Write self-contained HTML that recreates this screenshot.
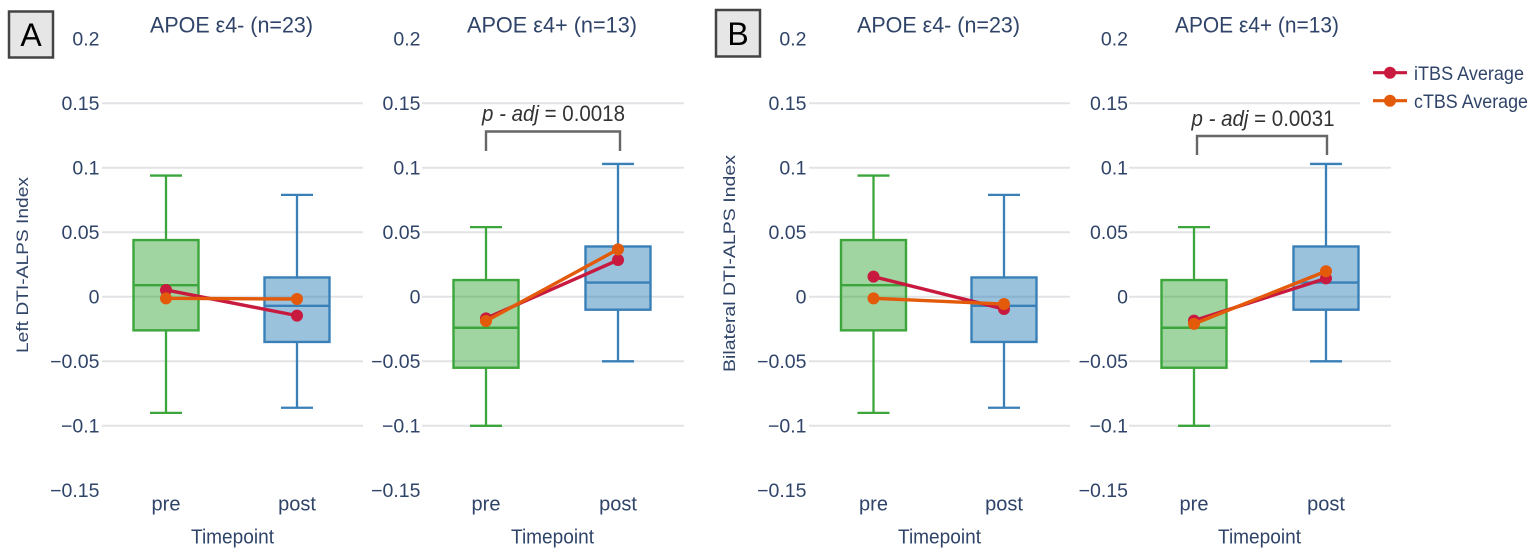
<!DOCTYPE html>
<html lang="en">
<head>
<meta charset="utf-8">
<title>DTI-ALPS Index by timepoint and APOE status</title>
<style>
html,body{margin:0;padding:0;background:#fff;width:1535px;height:558px;overflow:hidden}
svg{display:block;filter:blur(.3px)}
text{font-family:"Liberation Sans",sans-serif;fill:#2f4468}
</style>
</head>
<body>
<svg id="chart" xmlns="http://www.w3.org/2000/svg" width="1535" height="558" viewBox="0 0 1535 558">
  <g id="panels"></g>

  <g>
    <rect x="9" y="11.5" width="44" height="46" fill="#e6e6e6" stroke="#444" stroke-width="2.5"></rect>
    <text x="31" y="46" text-anchor="middle" font-size="32" style="fill:#000">A</text>
  </g>
  <g>
    <rect x="716" y="10" width="44" height="46.5" fill="#e6e6e6" stroke="#444" stroke-width="2.5"></rect>
    <text x="738" y="45" text-anchor="middle" font-size="32" style="fill:#000">B</text>
  </g>

  <text transform="translate(28,353) rotate(-90)" font-size="17" textLength="176" lengthAdjust="spacingAndGlyphs">Left DTI-ALPS Index</text>
  <text transform="translate(735,372) rotate(-90)" font-size="17" textLength="217" lengthAdjust="spacingAndGlyphs">Bilateral DTI-ALPS Index</text>

  <g>
    <path d="M486 151V131.5H620V151" fill="none" stroke="#666" stroke-width="2.4"></path>
    <text x="482" y="121" font-size="22" textLength="143" lengthAdjust="spacingAndGlyphs" style="fill:#333"><tspan font-style="italic">p - adj</tspan> = 0.0018</text>
  </g>
  <g>
    <path d="M1197 155V136H1327V155" fill="none" stroke="#666" stroke-width="2.4"></path>
    <text x="1191.5" y="126" font-size="22" textLength="143" lengthAdjust="spacingAndGlyphs" style="fill:#333"><tspan font-style="italic">p - adj</tspan> = 0.0031</text>
  </g>

  <g>
    <g>
      <line x1="1373" y1="72.7" x2="1407" y2="72.7" stroke="#c8193f" stroke-width="3.2"></line>
      <circle cx="1390" cy="72.7" r="6" fill="#c8193f"></circle>
      <text x="1414" y="80" font-size="19.5" textLength="110" lengthAdjust="spacingAndGlyphs">iTBS Average</text>
    </g>
    <g>
      <line x1="1373" y1="100.7" x2="1407" y2="100.7" stroke="#e35a0a" stroke-width="3.2"></line>
      <circle cx="1390" cy="100.7" r="6" fill="#e35a0a"></circle>
      <text x="1414" y="108" font-size="19.5" textLength="114" lengthAdjust="spacingAndGlyphs">cTBS Average</text>
    </g>
  </g>
</svg>

<script>
// ---- data ----
const categories = ['pre', 'post'];
const tickValues = [0.2, 0.15, 0.1, 0.05, 0, -0.05, -0.1, -0.15];
const tickLabels = ['0.2', '0.15', '0.1', '0.05', '0', '\u22120.05', '\u22120.1', '\u22120.15'];
const gridValues = [0.15, 0.1, 0.05, 0, -0.05, -0.1];

// box statistics: [lower whisker, q1, median, q3, upper whisker]
const leftNegPre = [-0.09, -0.026, 0.009, 0.044, 0.094];
const leftNegPost = [-0.086, -0.035, -0.007, 0.015, 0.079];
const leftPosPre = [-0.1, -0.055, -0.024, 0.013, 0.054];
const leftPosPost = [-0.05, -0.01, 0.011, 0.039, 0.103];
const bilatNegPre = [-0.09, -0.026, 0.009, 0.044, 0.094];
const bilatNegPost = [-0.086, -0.035, -0.007, 0.015, 0.079];
const bilatPosPre = [-0.1, -0.055, -0.024, 0.013, 0.054];
const bilatPosPost = [-0.05, -0.01, 0.011, 0.039, 0.103];

// averages: [pre, post]
const leftNegItbs = [0.0053, -0.0146];
const leftNegCtbs = [-0.0012, -0.0017];
const leftPosItbs = [-0.0167, 0.0285];
const leftPosCtbs = [-0.0188, 0.0368];
const bilatNegItbs = [0.0156, -0.0095];
const bilatNegCtbs = [-0.0012, -0.0056];
const bilatPosItbs = [-0.0185, 0.0143];
const bilatPosCtbs = [-0.021, 0.0198];

const titleNeg = 'APOE \u03b54- (n=23)';
const titlePos = 'APOE \u03b54+ (n=13)';

// ---- layout ----
const SVGNS = 'http://www.w3.org/2000/svg';
const zeroY = 296.8;
const pxPerUnit = 1290;
const boxHalf = 32.5;
const capHalf = 16;
const green = {stroke: '#3ca63c', fill: 'rgba(44,160,44,.45)'};
const blue = {stroke: '#3a80b8', fill: 'rgba(31,119,180,.45)'};
const itbsColor = '#c8193f';
const ctbsColor = '#e35a0a';

function yScale(v) { return zeroY - v * pxPerUnit; }

function make(tag, attrs, parent) {
  const el = document.createElementNS(SVGNS, tag);
  for (const k in attrs) el.setAttribute(k, attrs[k]);
  parent.appendChild(el);
  return el;
}

function drawBox(g, stats, cx, color, key) {
  const box = make('g', {}, g);
  
  
  const [lo, q1, med, q3, hi] = stats;
  const sw = 2.3;
  make('line', {x1: cx, x2: cx, y1: yScale(hi), y2: yScale(q3), stroke: color.stroke, 'stroke-width': sw}, box);
  make('line', {x1: cx, x2: cx, y1: yScale(q1), y2: yScale(lo), stroke: color.stroke, 'stroke-width': sw}, box);
  make('line', {x1: cx - capHalf, x2: cx + capHalf, y1: yScale(hi), y2: yScale(hi), stroke: color.stroke, 'stroke-width': sw}, box);
  make('line', {x1: cx - capHalf, x2: cx + capHalf, y1: yScale(lo), y2: yScale(lo), stroke: color.stroke, 'stroke-width': sw}, box);
  make('rect', {x: cx - boxHalf, y: yScale(q3), width: boxHalf * 2, height: yScale(q1) - yScale(q3), fill: color.fill, stroke: color.stroke, 'stroke-width': 2.4}, box);
  make('line', {x1: cx - boxHalf, x2: cx + boxHalf, y1: yScale(med), y2: yScale(med), stroke: color.stroke, 'stroke-width': 2.4}, box);
}

function drawMean(g, values, xs, color, key) {
  const s = make('g', {}, g);
  
  
  make('line', {x1: xs[0], y1: yScale(values[0]), x2: xs[1], y2: yScale(values[1]), stroke: color, 'stroke-width': 3.4}, s);
  values.forEach(function (v, i) {
    const pt = make('circle', {cx: xs[i], cy: yScale(v), r: 6, fill: color}, s);
    
    
  });
}

function drawPanel(p) {
  const root = document.getElementById('panels');
  const g = make('g', {}, root);
  
  

  gridValues.forEach(function (v) {
    const x2 = (p.shortTop && v === 0.15) ? p.shortTop : p.gridR;
    const line = make('line', {x1: p.gridL, x2: x2, y1: yScale(v), y2: yScale(v), stroke: '#e1e3e6', 'stroke-width': 2}, g);
    
    
  });

  tickValues.forEach(function (v, i) {
    const t = make('text', {x: p.tickR, y: yScale(v) + 6.8, 'text-anchor': 'end', 'font-size': 19.5}, g);
    
    
    t.textContent = tickLabels[i];
  });

  const xs = [p.preX, p.postX];
  drawBox(g, p.pre, p.preX, green, p.key + '-pre');
  drawBox(g, p.post, p.postX, blue, p.key + '-post');
  drawMean(g, p.itbs, xs, itbsColor, p.key + '-itbs');
  drawMean(g, p.ctbs, xs, ctbsColor, p.key + '-ctbs');

  categories.forEach(function (c, i) {
    const t = make('text', {x: xs[i], y: 510.5, 'text-anchor': 'middle', 'font-size': 20}, g);
    
    
    t.textContent = c;
  });

  const title = make('text', {x: p.titleX, y: 32.5, 'font-size': 22, textLength: p.titleW, lengthAdjust: 'spacingAndGlyphs'}, g);
  
  
  title.textContent = p.title;

  const xt = make('text', {x: p.xTitleX, y: 543.5, 'font-size': 20.5, textLength: 83, lengthAdjust: 'spacingAndGlyphs'}, g);
  
  
  xt.textContent = 'Timepoint';
}

drawPanel({key: 'a-neg', gridL: 102, gridR: 363, tickR: 99.5, preX: 166, postX: 297, titleX: 150, titleW: 163, xTitleX: 191, title: titleNeg, pre: leftNegPre, post: leftNegPost, itbs: leftNegItbs, ctbs: leftNegCtbs});
drawPanel({key: 'a-pos', gridL: 422, gridR: 684, tickR: 420.5, preX: 486, postX: 618, titleX: 467, titleW: 170, xTitleX: 511, title: titlePos, pre: leftPosPre, post: leftPosPost, itbs: leftPosItbs, ctbs: leftPosCtbs});
drawPanel({key: 'b-neg', gridL: 809, gridR: 1070, tickR: 806.5, preX: 873.5, postX: 1004, titleX: 857, titleW: 163, xTitleX: 898, title: titleNeg, pre: bilatNegPre, post: bilatNegPost, itbs: bilatNegItbs, ctbs: bilatNegCtbs});
drawPanel({key: 'b-pos', gridL: 1129, gridR: 1391, shortTop: 1360, tickR: 1128, preX: 1194, postX: 1326, titleX: 1175, titleW: 164, xTitleX: 1218, title: titlePos, pre: bilatPosPre, post: bilatPosPost, itbs: bilatPosItbs, ctbs: bilatPosCtbs});
</script>
</body>
</html>
